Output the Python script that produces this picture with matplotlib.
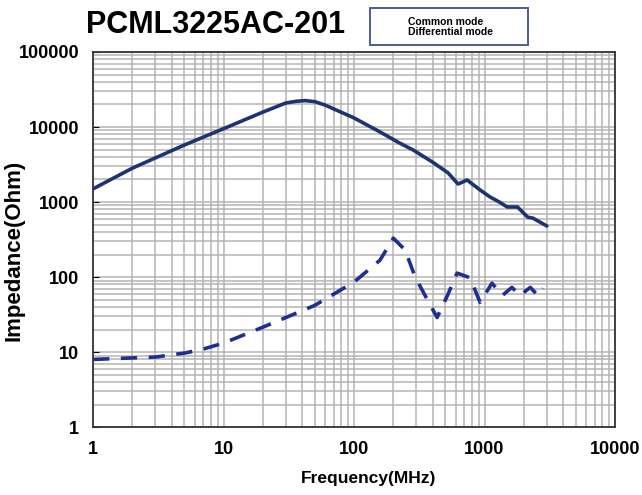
import numpy as np
import matplotlib
matplotlib.use('Agg')
import matplotlib.pyplot as plt
from matplotlib.ticker import LogLocator, FixedLocator, NullFormatter

plt.rcParams['font.family'] = ['Liberation Sans', 'DejaVu Sans']

# common mode impedance (solid)
cm_freq = [1, 2, 5, 10, 20, 30, 36, 42, 50, 60, 100, 158, 220, 286, 400, 525,
           627, 680, 734, 924, 1100, 1300, 1490, 1790, 2140, 2350, 3000]
cm_imp = [1500, 2830, 5750, 9500, 15800, 20900, 22000, 22500, 21800, 19600,
          13200, 8600, 6200, 4900, 3400, 2450, 1740, 1850, 1970, 1450, 1170,
          1000, 860, 860, 630, 610, 480]

# differential mode impedance (dashed)
dm_freq = [1, 3, 5, 7, 10, 20, 50, 100, 158, 200, 246, 294, 360, 433, 520,
           616, 774, 924, 1140, 1370, 1620, 1870, 2240, 2560, 2800]
dm_imp = [8, 8.6, 9.7, 11, 13.2, 21.5, 42, 86, 168, 330, 230, 100, 52, 29,
          57, 113, 98, 46, 83, 57, 73, 57, 73, 57, 71]

xticks = [1, 10, 100, 1000, 10000]
yticks = [1, 10, 100, 1000, 10000, 100000]

fig = plt.figure(figsize=(6.42, 4.95), dpi=100)
ax = fig.add_axes([0.145, 0.137, 0.813, 0.758])

ax.plot(cm_freq, cm_imp, color='#1c3570', lw=2.6, solid_capstyle='round',
        solid_joinstyle='round')
ax.plot(dm_freq, dm_imp, color='#1f2f8f', lw=2.6, dashes=(4.5, 3.2))

ax.set_xscale('log')
ax.set_yscale('log')
ax.set_xlim(1, 10000)
ax.set_ylim(1, 100000)

ax.xaxis.set_major_locator(FixedLocator(xticks))
ax.yaxis.set_major_locator(FixedLocator(yticks))
ax.set_xticklabels([str(v) for v in xticks])
ax.set_yticklabels([str(v) for v in yticks])
ax.xaxis.set_minor_locator(LogLocator(base=10, subs=np.arange(2, 10)))
ax.yaxis.set_minor_locator(LogLocator(base=10, subs=np.arange(2, 10)))
ax.xaxis.set_minor_formatter(NullFormatter())
ax.yaxis.set_minor_formatter(NullFormatter())

ax.grid(True, which='both', color='#b4b4b4', lw=1.1)
ax.set_axisbelow(True)
ax.tick_params(which='minor', length=0)
ax.tick_params(axis='x', which='major', length=0, pad=10)
ax.tick_params(axis='y', which='major', length=4, direction='in', pad=10)
for lab in ax.get_xticklabels() + ax.get_yticklabels():
    lab.set_fontsize(13)
    lab.set_fontweight('bold')
for s in ax.spines.values():
    s.set_color('#333333')
    s.set_linewidth(1.3)

ax.set_xlabel('Frequency(MHz)', fontsize=12.5, fontweight='bold')
ax.xaxis.set_label_coords(0.527, -0.118)
ax.set_ylabel('Impedance(Ohm)', fontsize=16, fontweight='bold')
ax.yaxis.set_label_coords(-0.132, 0.47)

fig.text(0.335, 0.95, 'PCML3225AC-201', fontsize=22, fontweight='bold',
         ha='center', va='center')
fig.text(408 / 642, 0.945, 'Common mode\nDifferential mode', fontsize=7.5,
         fontweight='bold', ha='left', va='center', linespacing=1.0)
fig.patches.append(plt.Rectangle((370 / 642, 1 - 45 / 495), 158 / 642, 37 / 495,
                                 transform=fig.transFigure, fill=False,
                                 ec='#4a5f8f', lw=1.4))

fig.savefig('out.png', dpi=100)
